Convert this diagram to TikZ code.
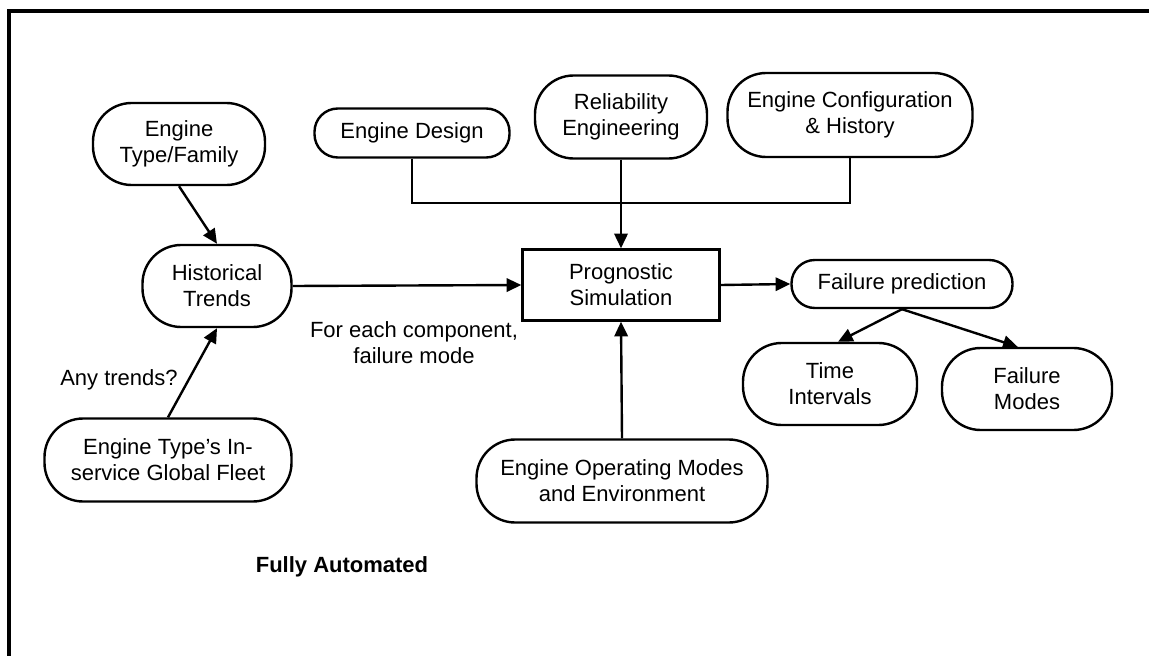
\documentclass[tikz,border=0pt]{standalone}
\usepackage{fontspec}
\setmainfont{Liberation Sans}
\usetikzlibrary{arrows.meta}
\tikzset{
  every node/.style={font=\fontsize{16.5}{19.5}\selectfont, align=center, inner sep=0pt},
  sz/.style n args={2}{minimum width=#1*0.75pt, minimum height=#2*0.75pt},
  pill/.style={draw, line width=1.8pt, rounded corners=29pt},
  slim/.style={draw, line width=1.8pt, rounded corners=17.5pt},
  box/.style={draw, line width=1.8pt},
  conn/.style={line width=1.8pt},
  arr/.style={conn, -{Triangle[length=11pt,width=10pt]}},
  lbl/.style={font=\fontsize{16.5}{19.5}\selectfont}
}
\begin{document}
\begin{tikzpicture}[x=0.75pt,y=-0.75pt]
\useasboundingbox (0,0) rectangle (1149,656);
% frame
\draw[line width=2.4pt] (9,656) -- (9,11) -- (1149,11);

% nodes
\node[pill, sz={172}{82}] (tf) at (179,144) {Engine\\Type/Family};
\node[pill, sz={149}{82}] (ht) at (217,286) {Historical\\Trends};
\node[pill, sz={247}{83}] (gf) at (168,460) {Engine Type’s In-\\service Global Fleet};
\node[slim, sz={195}{49}] (ed) at (412,133) {Engine Design};
\node[pill, sz={172}{83}] (re) at (621,117) {Reliability\\Engineering};
\node[pill, sz={245}{84}] (ec) at (850,115) {Engine Configuration\\\& History};
\node[box, sz={197}{71}] (ps) at (621,285) {Prognostic\\Simulation};
\node[slim, sz={221}{48}] (fp) at (902,284) {Failure prediction};
\node[pill, sz={174}{82}] (ti) at (830,384) {Time\\Intervals};
\node[pill, sz={170}{82}] (fm) at (1027,389) {Failure\\Modes};
\node[pill, sz={291}{83}] (om) at (622,481) {Engine Operating Modes\\and Environment};

% labels
\node[lbl] (any) at (119,380) {Any trends?};
\node[lbl] (each) at (414,343) {For each component,\\failure mode};
\node[lbl, font=\fontsize{16.5}{19.5}\selectfont\bfseries] (auto) at (342,567) {Fully Automated};

% connectors
\coordinate (bus) at (621,203);
\draw[arr] (tf.south) -- (ht.north);
\draw[arr] (gf.north) -- (ht.south);
\draw[arr] (ht.east) -- (ps.west);
\draw[conn] (ed.south) |- (bus) -| (ec.south);
\draw[arr] (re.south) -- (ps.north);
\draw[arr] (om.north) -- (ps.south);
\draw[arr] (ps.east) -- (fp.west);
\draw[arr] (fp.south) -- ([xshift=6pt]ti.north);
\draw[arr] (fp.south) -- ([xshift=-7pt]fm.north);
\end{tikzpicture}
\end{document}
